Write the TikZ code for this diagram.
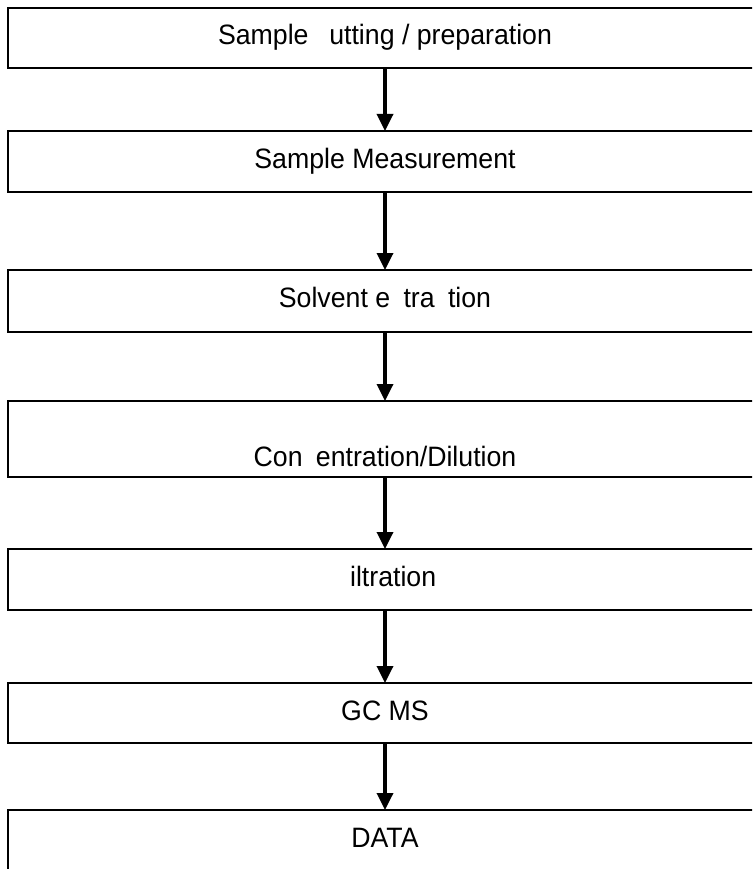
\documentclass[tikz,border=0pt]{standalone}
\usepackage{fontspec}
\setmainfont{Liberation Sans}
\usetikzlibrary{arrows.meta}

\tikzset{
	procbox/.style={draw=black, line width=1.6pt, rectangle, minimum width=754pt, outer sep=0pt, inner sep=0pt},
	proclabel/.style={anchor=base, inner sep=0pt, yscale=1.05, font=\fontsize{26.7}{32}\selectfont},
	flowarrow/.style={line width=3.4pt, -{Triangle[width=16pt,length=17pt]}}
}

\begin{document}
\begin{tikzpicture}[x=1pt,y=-1pt]
	
	\useasboundingbox (0,0) rectangle (752,869);
	\clip (0,0) rectangle (752,869);
	
	% Boxes
	\node[procbox, minimum height=60pt] (prep) at (385,38) {};
	\node[procbox, minimum height=61pt] (meas) at (385,161.5) {};
	\node[procbox, minimum height=62pt] (solv) at (385,301) {};
	\node[procbox, minimum height=76pt] (conc) at (385,439) {};
	\node[procbox, minimum height=61pt] (filt) at (385,579.5) {};
	\node[procbox, minimum height=60pt] (gcms) at (385,713) {};
	\node[procbox, minimum height=70pt] (data) at (385,845) {};
	
	% Texts
	\node[proclabel] (preptext) at ([yshift=-37pt]prep.north) {Sample \phantom{c}utting / preparation};
	\node[proclabel] (meastext) at ([yshift=-37pt]meas.north) {Sample Measurement};
	\node[proclabel] (solvtext) at ([yshift=-37pt]solv.north) {Solvent e\phantom{x}tra\phantom{c}tion};
	\node[proclabel] (conctext) at ([yshift=11pt]conc.south) {Con\phantom{c}entration/Dilution};
	\node[proclabel] (filttext) at ([yshift=-37pt]filt.north) {\phantom{F}iltration};
	\node[proclabel] (gcmstext) at ([yshift=-37pt]gcms.north) {GC MS};
	\node[proclabel] (datatext) at ([yshift=-37pt]data.north) {DATA};
	
	% Arrows
	\foreach \a/\b in {prep/meas, meas/solv, solv/conc, conc/filt, filt/gcms, gcms/data} {
		\draw[flowarrow] (\a.south) -- (\b.north);
	}
\end{tikzpicture}
\end{document}
